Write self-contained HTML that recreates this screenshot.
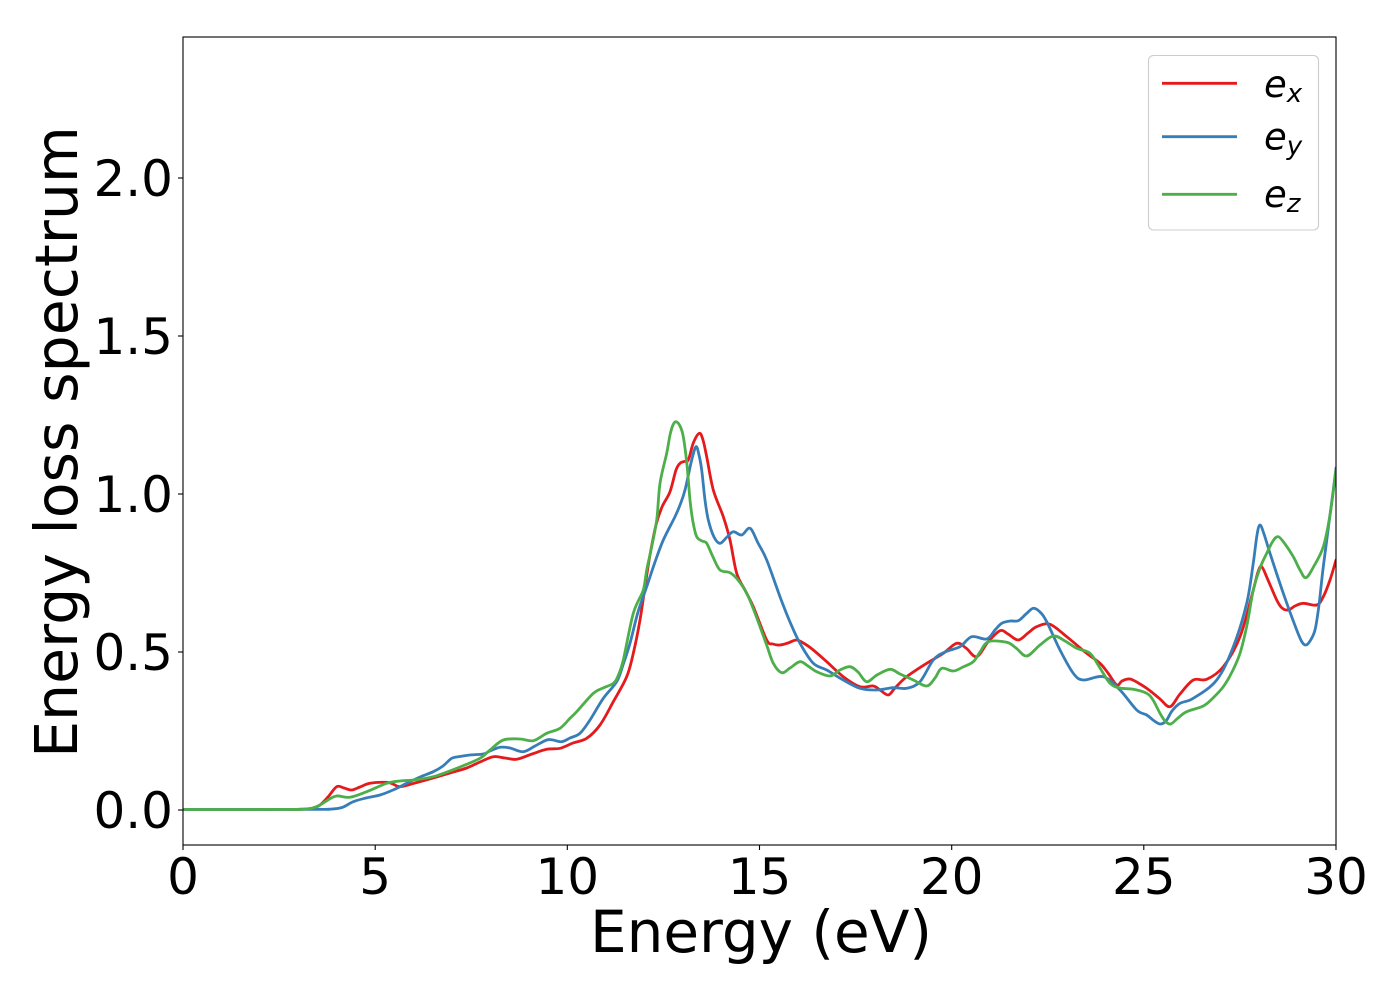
<!DOCTYPE html>
<html>
<head>
<meta charset="utf-8">
<style>
  html, body { margin:0; padding:0; background:#ffffff; }
  svg { display:block; }
  text { font-family: "DejaVu Sans", "Liberation Sans", sans-serif; fill:#000; }
</style>
</head>
<body>
<svg id="chart" width="1400" height="1000" viewBox="0 0 1400 1000" xmlns="http://www.w3.org/2000/svg">
  <rect x="0" y="0" width="1400" height="1000" fill="#ffffff"/>
  <defs>
    <clipPath id="ax"><rect x="183" y="37" width="1153" height="808"/></clipPath>
  </defs>

  <g id="curves" clip-path="url(#ax)" fill="none" stroke-width="2.8" stroke-linejoin="round" stroke-linecap="round">
    <polyline stroke="#e41a1c" points="183,809.5 195,809.5 210,809.5 225,809.5 240,809.5 255,809.5 270,809.4 285,809.4 300,809.3 312,808.2 320,805 328,797 336.7,786.7 344,788 351.7,790 360,787 370,783.3 386.7,782.3 393,784 400,786.7 415,783 433,778 450,773 466.7,768 480,762 493.3,756.7 505,758 516.7,759.3 532,754 546.7,749.3 560,748.3 573,743 586.7,738.3 600,725 613.3,701.7 626.7,676.7 633.3,653.3 640,620 646,580 650,555 656,525 662,507 670,491.7 676,470 680,463.3 684,461.5 688.3,460 693.3,443 699.3,433.3 703,440 706.7,456.7 713.3,490 723.3,516.7 730,540 736.7,573.3 745,590 753.3,606.7 766.7,640 773,644 780,645 788,643 796.7,640 805,644 813.3,650 826.7,661.7 843.3,676.7 860,686.7 873.3,686 880,690 888.3,695 895,688 906.7,676.7 926.7,663.3 943.3,653.3 956.7,643.3 966,648 976.7,656.7 988,642 1000,630.7 1008,634 1018.3,640 1028,633 1036.7,626.7 1050,624.3 1066.7,636.7 1086.7,653.3 1100,663.3 1108,673 1116.7,685 1122,681 1130,679 1140,684 1150,690.7 1160,699 1170,706.7 1180,694 1193.3,680 1206.7,679.3 1223.3,666.7 1240,636.7 1253.3,590 1258,572 1261.7,566.7 1268,580 1276.7,600 1282,608 1288.3,610 1295,606 1303.3,603.3 1316.7,605 1323.3,596.7 1330,580 1336,560"/>
    <polyline stroke="#377eb8" points="183,809.5 195,809.5 210,809.5 225,809.5 240,809.5 255,809.5 270,809.5 285,809.4 300,809.4 315,809.3 330,809.2 342,807.5 353.3,801.7 366,798 380,795 393,790 406.7,783.3 420,777 433.3,771.7 443,766 451.7,758.3 460,756.5 470,755 483.3,754 490,751 500,747.3 510,748 523.3,751.7 535,746 546.7,740 553,740 561.7,741.7 570,738 580,733.3 590,720 603.3,698.3 616.7,681.7 623,665 630,643.3 638,612 646.7,586.7 655,562 663.3,540 675,516.7 680,505 685,490 691.7,460 696,446.7 699,455 701.7,470 705,500 708.3,520 714,537 720,543.3 727,537 733.3,531.7 741.7,535 750,528.3 758,543 766.7,560 780,596.7 790,622 800,643.3 813.3,663.3 826.7,670 843.3,680 860,688.3 876.7,690 893.3,687.7 906.7,688.3 920,681.7 933.3,660 945,652 960,646.7 971.7,636.7 986.7,639 995,630 1001.7,623.3 1010,621 1018.3,620.7 1026,614 1033.3,608.3 1040,612 1046.7,621.7 1060,650 1073.3,673.3 1083.3,680 1103.3,676.7 1120,690 1136.7,710 1146.7,715 1153,720 1160,724 1166,721 1172,711 1180,703.3 1193.3,698.3 1216.7,680 1233.3,646.7 1246.7,603.3 1253,565 1257,535 1260,525 1264,534 1270,553.3 1283.3,593.3 1296.7,630 1302,642 1306,645 1310,641 1315,630 1319,605 1323.3,566.7 1333.3,490 1336,468"/>
    <polyline stroke="#4daf4a" points="183,809.5 195,809.5 210,809.5 225,809.5 240,809.5 255,809.5 270,809.4 285,809.4 300,809.3 312,808.2 320,805 328,800 336.7,796 350,797.3 366.7,791.7 386.7,783.3 400,781 413.3,780 433.3,776.7 456.7,768.3 480,758.3 490,750 503.3,740 520,739 533.3,740.7 546.7,733.3 560,728.3 570,718.3 576.7,711.7 593.3,693.3 603,688 613.3,683.3 618,676 623.3,660 633.3,613.3 643.3,590 646.7,570 651,550 656.7,520 660,483.3 666.7,453.3 670,435 673,425 676,421.7 680,426 683.3,436.7 687,465 690,500 693,522 696.7,536.7 702,541 706.7,543.3 713,557 720,570 730,572.7 738,580 746.7,593.3 753,608 760,626.7 767,646 773.3,663.3 781.7,672.7 790,668 800,661.7 808,666 816.7,671.7 830,676 840,670 850,666.7 858,672 866.7,681.7 877,675 890,669.3 900,674 913.3,680 926.7,686 935,678 941.7,668.3 953.3,671 963,667 973.3,661.7 980,652 988.3,641.7 1006.7,642.3 1016,648 1026.7,656 1040,645 1053.3,636 1065,641 1076.7,648.3 1090,653.3 1100,668 1110,683.3 1120,688 1133.3,689.3 1146.7,693.3 1153,700 1160,713.3 1165,721 1170.7,724 1178,718 1186.7,711.7 1203.3,706 1213,698 1223.3,686.7 1232,672 1240,653.3 1247,625 1253.3,590 1260,568 1266.7,553.3 1273,541 1278.3,536.7 1285,544 1293.3,556.7 1300,570 1306,577.7 1314,566 1323.3,546.7 1330,515 1336,470"/>
  </g>

  <!-- axes frame -->
  <rect x="183" y="37" width="1153" height="808" fill="none" stroke="#000" stroke-width="1.1"/>

  <!-- x ticks -->
  <g stroke="#000" stroke-width="1.1">
    <line x1="183" y1="845" x2="183" y2="850"/>
    <line x1="375.2" y1="845" x2="375.2" y2="850"/>
    <line x1="567.3" y1="845" x2="567.3" y2="850"/>
    <line x1="759.5" y1="845" x2="759.5" y2="850"/>
    <line x1="951.7" y1="845" x2="951.7" y2="850"/>
    <line x1="1143.8" y1="845" x2="1143.8" y2="850"/>
    <line x1="1336" y1="845" x2="1336" y2="850"/>
  </g>
  <g font-size="50" text-anchor="middle">
    <text x="183" y="894">0</text>
    <text x="375.2" y="894">5</text>
    <text x="567.3" y="894">10</text>
    <text x="759.5" y="894">15</text>
    <text x="951.7" y="894">20</text>
    <text x="1143.8" y="894">25</text>
    <text x="1336" y="894">30</text>
  </g>

  <!-- y ticks -->
  <g stroke="#000" stroke-width="1.1">
    <line x1="178" y1="810" x2="183" y2="810"/>
    <line x1="178" y1="652" x2="183" y2="652"/>
    <line x1="178" y1="494" x2="183" y2="494"/>
    <line x1="178" y1="336" x2="183" y2="336"/>
    <line x1="178" y1="178" x2="183" y2="178"/>
  </g>
  <g font-size="50" text-anchor="end">
    <text x="173" y="828">0.0</text>
    <text x="173" y="670">0.5</text>
    <text x="173" y="512">1.0</text>
    <text x="173" y="354">1.5</text>
    <text x="173" y="196">2.0</text>
  </g>

  <!-- axis labels -->
  <text x="761" y="952" font-size="58" text-anchor="middle">Energy (eV)</text>
  <text transform="translate(77,442) rotate(-90)" font-size="58.5" text-anchor="middle">Energy loss spectrum</text>

  <!-- legend -->
  <rect x="1148.5" y="55.5" width="170" height="174.5" rx="5" ry="5" fill="#ffffff" fill-opacity="0.8" stroke="#cccccc" stroke-width="1.1"/>
  <g stroke-width="2.8">
    <line x1="1162" y1="83.3" x2="1237" y2="83.3" stroke="#e41a1c"/>
    <line x1="1162" y1="136.7" x2="1237" y2="136.7" stroke="#377eb8"/>
    <line x1="1162" y1="194.3" x2="1237" y2="194.3" stroke="#4daf4a"/>
  </g>
  <g font-size="37" font-style="italic">
    <text x="1264" y="97">e<tspan font-size="26" dy="5">x</tspan></text>
    <text x="1264" y="149.5">e<tspan font-size="26" dy="5">y</tspan></text>
    <text x="1264" y="207">e<tspan font-size="26" dy="5">z</tspan></text>
  </g>
</svg>
<script>
(function(){
  var NS = "http://www.w3.org/2000/svg";
  var g = document.getElementById("curves");
  if (!g) return;
  var pls = Array.prototype.slice.call(g.getElementsByTagName("polyline"));
  pls.forEach(function(pl){
    var pts = pl.getAttribute("points").trim().split(/\s+/).map(function(s){
      var a = s.split(","); return [parseFloat(a[0]), parseFloat(a[1])];
    });
    var d = "M" + pts[0][0] + "," + pts[0][1];
    for (var i = 0; i < pts.length - 1; i++) {
      var p0 = pts[i > 0 ? i - 1 : i], p1 = pts[i], p2 = pts[i + 1], p3 = pts[i + 2 < pts.length ? i + 2 : i + 1];
      var dx = p2[0] - p1[0];
      // tangents, clamped so control points never overshoot in x
      var t1x = (p2[0] - p0[0]) / 6, t1y = (p2[1] - p0[1]) / 6;
      var t2x = (p3[0] - p1[0]) / 6, t2y = (p3[1] - p1[1]) / 6;
      var lim = dx / 2;
      if (t1x > lim) { var s1 = lim / t1x; t1x *= s1; t1y *= s1; }
      if (t2x > lim) { var s2 = lim / t2x; t2x *= s2; t2y *= s2; }
      var c1x = p1[0] + t1x, c1y = p1[1] + t1y;
      var c2x = p2[0] - t2x, c2y = p2[1] - t2y;
      d += " C" + c1x.toFixed(2) + "," + c1y.toFixed(2) + " " + c2x.toFixed(2) + "," + c2y.toFixed(2) + " " + p2[0] + "," + p2[1];
    }
    var path = document.createElementNS(NS, "path");
    path.setAttribute("d", d);
    path.setAttribute("stroke", pl.getAttribute("stroke"));
    g.replaceChild(path, pl);
  });
})();
</script>
</body>
</html>
